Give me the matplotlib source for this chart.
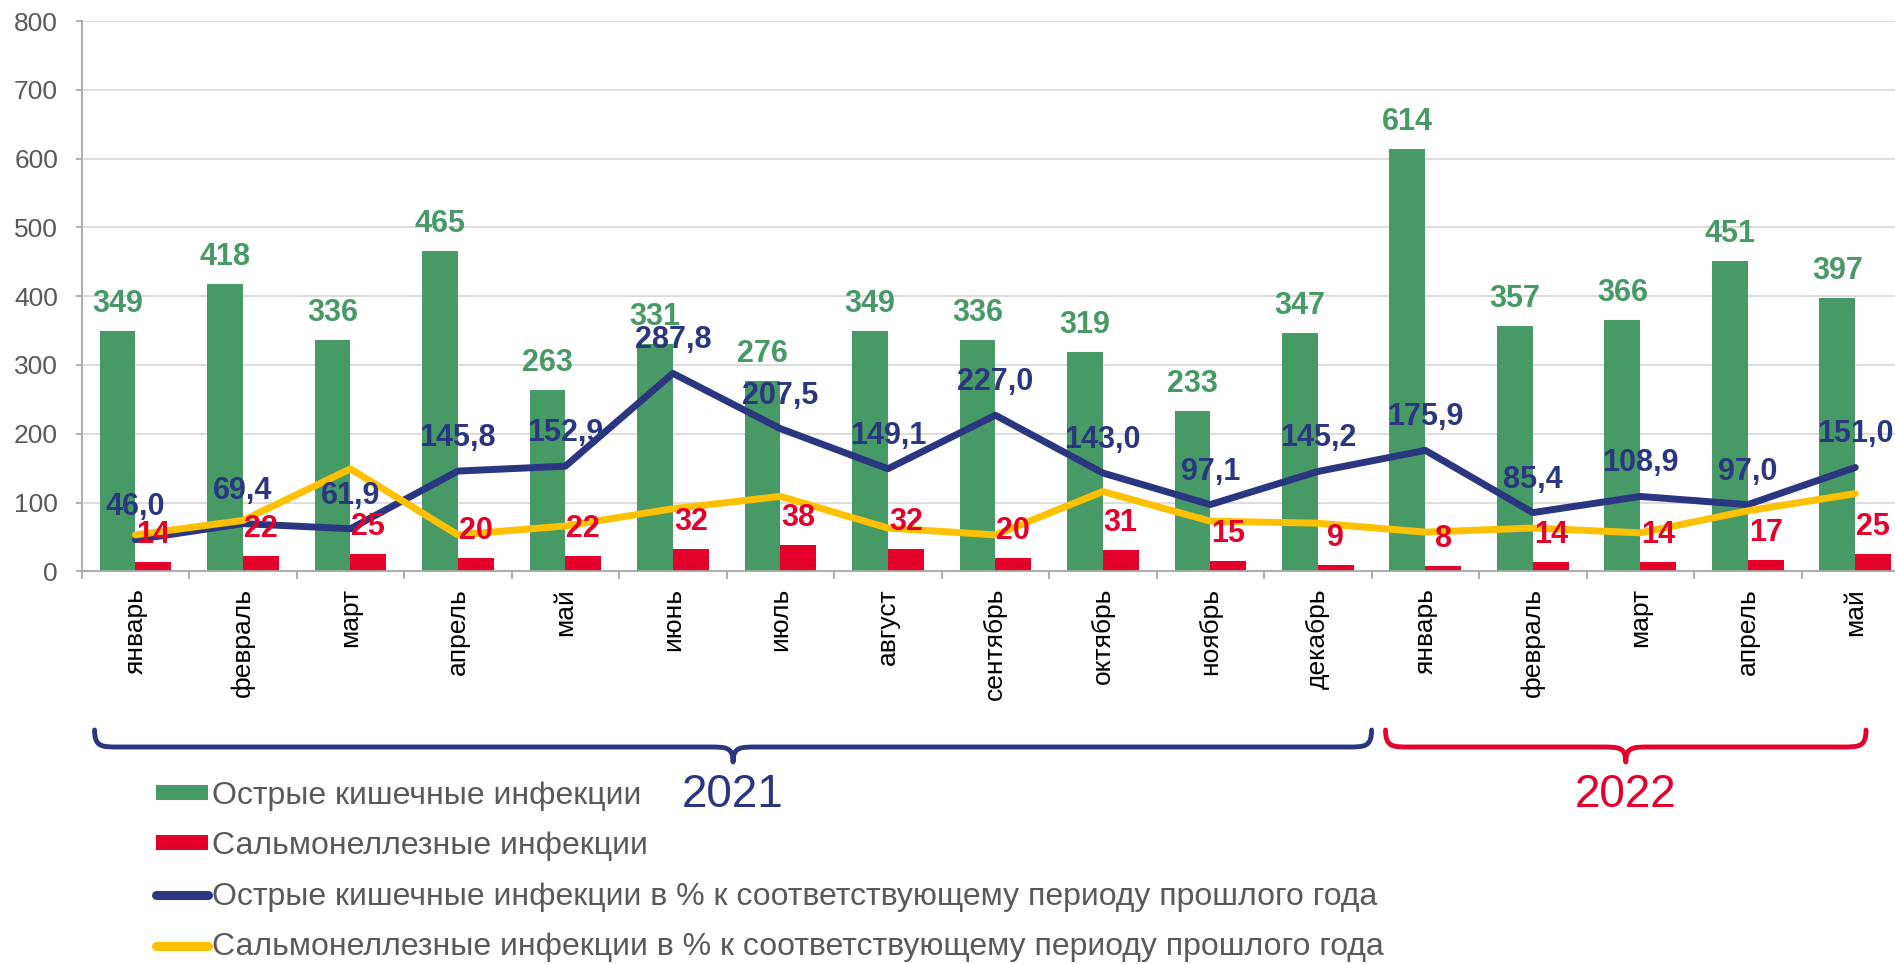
import numpy as np
import matplotlib
matplotlib.use('Agg')
import matplotlib.pyplot as plt
import matplotlib.transforms as mtransforms
from matplotlib.path import Path
from matplotlib.patches import PathPatch, Patch
from matplotlib.lines import Line2D

plt.rcParams['font.family'] = ['Liberation Sans', 'DejaVu Sans']

# данные
months = ['январь', 'февраль', 'март', 'апрель', 'май', 'июнь', 'июль', 'август',
          'сентябрь', 'октябрь', 'ноябрь', 'декабрь',
          'январь', 'февраль', 'март', 'апрель', 'май']
oki = [349, 418, 336, 465, 263, 331, 276, 349, 336, 319, 233, 347, 614, 357, 366, 451, 397]
salm = [14, 22, 25, 20, 22, 32, 38, 32, 20, 31, 15, 9, 8, 14, 14, 17, 25]
oki_pct = [46.0, 69.4, 61.9, 145.8, 152.9, 287.8, 207.5, 149.1, 227.0, 143.0, 97.1,
           145.2, 175.9, 85.4, 108.9, 97.0, 151.0]
salm_pct = [53, 74, 149, 53, 66, 91, 109, 63, 53, 116, 73, 70, 57, 63, 56, 88, 113]
years = ['2021', '2022']
year_spans = [(-0.38, 11.5), (11.63, 16.1)]
series_names = ['Острые кишечные инфекции',
                'Сальмонеллезные инфекции',
                'Острые кишечные инфекции в % к соответствующему периоду прошлого года',
                'Сальмонеллезные инфекции в % к соответствующему периоду прошлого года']

GREEN = '#479A66'
RED = '#E4002B'
NAVY = '#2B3681'
YELLOW = '#FFC000'
GRAY = '#595959'

fig = plt.figure(figsize=(18.95, 9.64), dpi=100)
ax = fig.add_axes([0.0431, 0.4073, 0.9643, 0.5709])

x = np.arange(len(months))
w = 1 / 3
ax.bar(x - w / 2, oki, w, color=GREEN, zorder=2)
ax.bar(x + w / 2, salm, w, color=RED, zorder=2)
ax.plot(x, oki_pct, color=NAVY, lw=5, solid_capstyle='round', solid_joinstyle='round', zorder=3)
ax.plot(x, salm_pct, color=YELLOW, lw=5, solid_capstyle='round', solid_joinstyle='round', zorder=4)

# подписи значений
for i in range(len(x)):
    ax.annotate(str(oki[i]), (x[i] - w / 2, oki[i]), xytext=(0, 19), textcoords='offset pixels',
                ha='center', va='baseline', fontsize=22, fontweight='bold', color=GREEN, zorder=6)
    ax.annotate(str(salm[i]), (x[i] + w / 2, salm[i]), xytext=(0, 19), textcoords='offset pixels',
                ha='center', va='baseline', fontsize=22, fontweight='bold', color=RED, zorder=6)
    ax.annotate(f'{oki_pct[i]:.1f}'.replace('.', ','), (x[i], oki_pct[i]), xytext=(0, 25),
                textcoords='offset pixels', ha='center', va='baseline', fontsize=22,
                fontweight='bold', color=NAVY, zorder=6)

# оси
ax.set_xlim(-0.5, 16.5)
ax.set_ylim(0, 800)
ax.set_yticks(range(0, 900, 100))
ax.grid(axis='y', color='#D9D9D9', lw=1.3)
ax.set_axisbelow(True)
for s in ['top', 'right']:
    ax.spines[s].set_visible(False)
for s in ['left', 'bottom']:
    ax.spines[s].set_color('#A6A6A6')
    ax.spines[s].set_linewidth(1.3)
ax.tick_params(axis='y', length=4.3, color='#A6A6A6', width=1.3, labelsize=19,
               labelcolor=GRAY, pad=12.7)
ax.set_xticks(x)
ax.set_xticklabels(months, rotation=90, fontsize=19)
ax.tick_params(axis='x', which='major', length=0, pad=12)
ax.set_xticks(np.arange(-0.5, 17, 1), minor=True)
ax.tick_params(axis='x', which='minor', length=5.8, color='#A6A6A6', width=1.3)

# фигурные скобки для годов
tr = mtransforms.blended_transform_factory(ax.transData, fig.transFigure)


def brace(x0, x1, color):
    xm = (x0 + x1) / 2
    d = 0.22
    yt, yb, yp = 0.2427, 0.2251, 0.2095
    verts = [(x0, yt), (x0, yb), (x0 + d * 0.3, yb), (x0 + d, yb),
             (xm - d, yb),
             (xm - d * 0.3, yb), (xm, yb), (xm, yp),
             (xm, yb), (xm + d * 0.3, yb), (xm + d, yb),
             (x1 - d, yb),
             (x1 - d * 0.3, yb), (x1, yb), (x1, yt)]
    codes = [Path.MOVETO, Path.CURVE4, Path.CURVE4, Path.CURVE4, Path.LINETO,
             Path.CURVE4, Path.CURVE4, Path.CURVE4, Path.CURVE4, Path.CURVE4, Path.CURVE4,
             Path.LINETO, Path.CURVE4, Path.CURVE4, Path.CURVE4]
    fig.add_artist(PathPatch(Path(verts, codes), fill=False, edgecolor=color, lw=3.5,
                             transform=tr, capstyle='round', joinstyle='round'))
    return xm


for (x0, x1), year, color in zip(year_spans, years, [NAVY, RED]):
    xm = brace(x0, x1, color)
    fig.text(xm, 0.1755, year, transform=tr, ha='center', va='center', fontsize=33, color=color)

# легенда
handles = [Patch(facecolor=GREEN), Patch(facecolor=RED),
           Line2D([], [], color=NAVY, lw=6.5, solid_capstyle='round'),
           Line2D([], [], color=YELLOW, lw=6.5, solid_capstyle='round')]
fig.legend(handles, series_names, loc='upper left', bbox_to_anchor=(0.0823, 0.190),
           frameon=False, fontsize=23, handlelength=1.63, handleheight=0.35,
           handletextpad=0.11, labelspacing=0.64, borderpad=0, borderaxespad=0,
           labelcolor=GRAY)

fig.savefig('out.png', dpi=100)
